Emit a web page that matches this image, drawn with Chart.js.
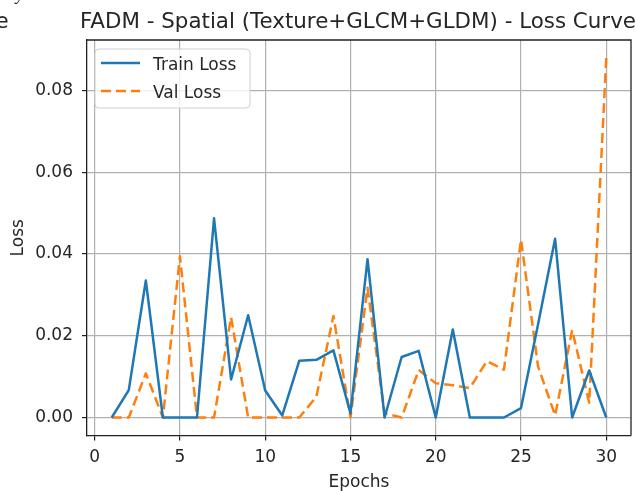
<!DOCTYPE html>
<html>
<head>
<meta charset="utf-8">
<title>FADM - Spatial (Texture+GLCM+GLDM) - Loss Curve</title>
<script src="https://cdn.jsdelivr.net/npm/chart.js@4.4.1/dist/chart.umd.min.js"></script>
<style>
    html, body { margin: 0; padding: 0; background: #fff; }
    #chartBox { width: 636px; height: 491px; }
</style>
</head>
<body>
<div id="chartBox"><canvas id="lossChart" width="636" height="491"></canvas></div>
<script>
// values
const epochs = [1, 2, 3, 4, 5, 6, 7, 8, 9, 10, 11, 12, 13, 14, 15, 16, 17, 18, 19, 20, 21, 22, 23, 24, 25, 26, 27, 28, 29, 30];
const trainLoss = [0, 0.0067, 0.0335, 0, 0, 0, 0.0487, 0.0093, 0.025, 0.0066, 0.0005, 0.0139, 0.0141, 0.0164, 0.001, 0.0387, 0, 0.0148, 0.0163, 0, 0.0215, 0, 0, 0, 0.0023, 0.0228, 0.0437, 0, 0.0115, 0];
const valLoss = [0, 0, 0.0108, 0, 0.0394, 0, 0, 0.0245, 0, 0, 0, 0, 0.0051, 0.0248, 0, 0.0317, 0.001, 0, 0.0116, 0.0084, 0.0079, 0.0072, 0.0138, 0.0117, 0.0435, 0.0125, 0.0005, 0.0214, 0.0036, 0.0879];
const xTicks = [0, 5, 10, 15, 20, 25, 30];
const yTicks = [0, 0.02, 0.04, 0.06, 0.08];
const seriesNames = ['Train Loss', 'Val Loss'];
const chartTitle = 'FADM - Spatial (Texture+GLCM+GLDM) - Loss Curve';
const xTitle = 'Epochs';
const yTitle = 'Loss';

const FONT = '"DejaVu Sans", Verdana, sans-serif';
const TEXT = '#262626';
const SPINE = '#222222';
const GRID = '#b0b0b0';
const BLUE = '#1f77b4';
const ORANGE = '#ff7f0e';
const LINE_W = 2.5;
const DASH = [10, 5];

// titles, frame, legend and the cut-off bits of the neighbouring figure
const decorations = {
    id: 'decorations',
    afterDraw(chart) {
        const ctx = chart.ctx;
        const area = chart.chartArea;
        ctx.save();

        // top + right spines
        ctx.strokeStyle = SPINE;
        ctx.lineWidth = 1.3;
        ctx.beginPath();
        ctx.moveTo(area.left, area.top);
        ctx.lineTo(area.right, area.top);
        ctx.lineTo(area.right, area.bottom);
        ctx.stroke();

        ctx.fillStyle = TEXT;
        ctx.textBaseline = 'alphabetic';

        // title
        ctx.font = '21.4px ' + FONT;
        ctx.textAlign = 'center';
        ctx.fillText(chartTitle, (area.left + area.right) / 2 - 1, 28);

        // neighbour chart fragments on the left edge
        ctx.textAlign = 'left';
        ctx.fillText('e', -4.5, 28);
        ctx.font = 'italic 18px "Liberation Serif", serif';
        ctx.fillText('y', 16, 0);

        // axis titles
        ctx.font = '17px ' + FONT;
        ctx.textAlign = 'center';
        ctx.fillText(xTitle, (area.left + area.right) / 2, 487);
        ctx.save();
        ctx.translate(23, (area.top + area.bottom) / 2);
        ctx.rotate(-Math.PI / 2);
        ctx.fillText(yTitle, 0, 0);
        ctx.restore();

        // legend
        const lx = 95, ly = 49, lw = 155, lh = 59;
        ctx.beginPath();
        ctx.roundRect(lx, ly, lw, lh, 4);
        ctx.fillStyle = 'rgba(255,255,255,0.8)';
        ctx.fill();
        ctx.strokeStyle = '#d0d0d0';
        ctx.lineWidth = 1;
        ctx.stroke();

        const rows = [
            { label: seriesNames[0], color: BLUE, dash: [], y: 63 },
            { label: seriesNames[1], color: ORANGE, dash: DASH, y: 91 }
        ];
        rows.forEach(r => {
            ctx.strokeStyle = r.color;
            ctx.lineWidth = LINE_W;
            ctx.setLineDash(r.dash);
            ctx.beginPath();
            ctx.moveTo(101, r.y);
            ctx.lineTo(140, r.y);
            ctx.stroke();
            ctx.setLineDash([]);
            ctx.fillStyle = TEXT;
            ctx.font = '17px ' + FONT;
            ctx.textAlign = 'left';
            ctx.fillText(r.label, 153, r.y + 6.5);
        });

        ctx.restore();
    }
};

function buildChart() {
    const ctx = document.getElementById('lossChart').getContext('2d');
    return new Chart(ctx, {
        type: 'line',
        data: {
            labels: epochs,
            datasets: [
                {
                    label: seriesNames[0],
                    data: epochs.map((e, i) => ({ x: e, y: trainLoss[i] })),
                    borderColor: BLUE,
                    borderWidth: LINE_W,
                    borderJoinStyle: 'round',
                    pointRadius: 0,
                    tension: 0,
                    fill: false
                },
                {
                    label: seriesNames[1],
                    data: epochs.map((e, i) => ({ x: e, y: valLoss[i] })),
                    borderColor: ORANGE,
                    borderWidth: LINE_W,
                    borderDash: DASH,
                    borderJoinStyle: 'round',
                    pointRadius: 0,
                    tension: 0,
                    fill: false
                }
            ]
        },
        options: {
            responsive: false,
            animation: false,
            devicePixelRatio: 1,
            layout: { padding: { left: 0, top: 40, right: 5, bottom: 0 } },
            plugins: {
                legend: { display: false },
                title: { display: false },
                tooltip: { enabled: false }
            },
            scales: {
                x: {
                    type: 'linear',
                    min: -0.45,
                    max: 31.45,
                    afterBuildTicks: scale => { scale.ticks = xTicks.map(v => ({ value: v })); },
                    afterFit: scale => { scale.height = 55.5; },
                    grid: { color: GRID, lineWidth: 1.2, tickColor: SPINE, tickLength: 5 },
                    border: { display: true, color: SPINE, width: 1.3 },
                    ticks: {
                        color: TEXT,
                        font: { family: FONT, size: 17 },
                        padding: 7,
                        maxRotation: 0,
                        callback: v => String(v)
                    }
                },
                y: {
                    type: 'linear',
                    min: -0.0044,
                    max: 0.0923,
                    afterBuildTicks: scale => { scale.ticks = yTicks.map(v => ({ value: v })); },
                    afterFit: scale => { scale.width = 87; },
                    grid: { color: GRID, lineWidth: 1.2, tickColor: SPINE, tickLength: 5 },
                    border: { display: true, color: SPINE, width: 1.3 },
                    ticks: {
                        color: TEXT,
                        font: { family: FONT, size: 17 },
                        padding: 9,
                        callback: v => v.toFixed(2)
                    }
                }
            }
        },
        plugins: [decorations]
    });
}

buildChart();
</script>
</body>
</html>
